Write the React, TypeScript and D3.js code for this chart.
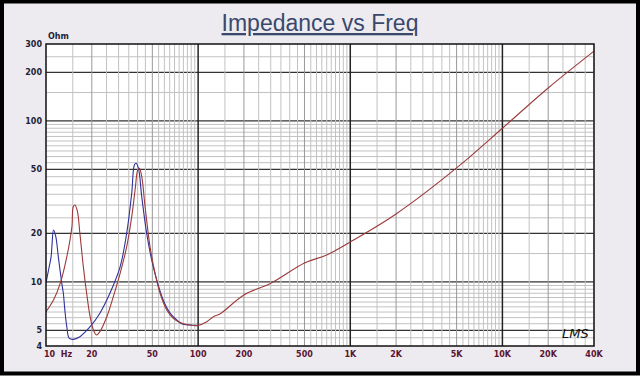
import React from "react";
import * as d3 from "d3";

const W = 640;
const H = 377;

const freqBlue = [10, 10.4, 10.8, 10.95, 11.2, 11.6, 12.05, 12.7, 13.0, 13.3, 13.7, 14.2, 15.1, 16.7, 19.5, 22.6, 26.3, 30.7, 33.9, 36.6, 38.1, 39.1, 40.5, 42.6, 45.9, 49.5, 53.4, 59, 65.4, 72.3, 78, 88, 100];
const zBlue = [9.85, 11.9, 14.3, 16.9, 21.0, 19.1, 14.3, 9.8, 8.5, 6.7, 5.27, 4.47, 4.4, 4.57, 5.27, 6.39, 8.5, 12.4, 20.0, 35.5, 53.2, 54.5, 50.8, 33.8, 20.0, 13.7, 10.3, 7.7, 6.4, 5.8, 5.5, 5.4, 5.37];

const freqRed = [10, 11.2, 12.4, 13.7, 14.8, 15.1, 15.5, 16.1, 16.7, 17.6, 18.5, 19.5, 20.5, 21.5, 22.6, 25.1, 27.7, 30.7, 33.9, 36.6, 38.5, 40.1, 41.1, 42.6, 44.8, 48.3, 52.1, 56.2, 62.2, 68.7, 76, 88, 100, 114, 126, 139, 200, 300, 500, 700, 1000, 2000, 5000, 10000, 20000, 40000];
const zRed = [6.53, 7.72, 9.8, 14.3, 22.0, 29.3, 30.0, 27.3, 20.0, 12.4, 8.5, 6.08, 5.03, 4.68, 4.91, 6.08, 8.1, 11.3, 16.5, 25.4, 37.2, 49.5, 50.8, 45.0, 29.3, 16.5, 11.3, 8.5, 6.7, 5.94, 5.6, 5.4, 5.37, 5.66, 6.08, 6.32, 8.3, 9.8, 13.1, 14.7, 17.7, 26.4, 51, 90, 160, 271];

const xTickValues = [10, 20, 50, 100, 200, 500, 1000, 2000, 5000, 10000, 20000, 40000];
const xTickLabels = ["10  Hz", "20", "50", "100", "200", "500", "1K", "2K", "5K", "10K", "20K", "40K"];
const yTickValues = [300, 200, 100, 50, 20, 10, 5, 4];
const yTickLabels = ["300", "200", "100", "50", "20", "10", "5", "4"];

const gridMultipliers = [1.5, 2, 2.5, 3, 3.5, 4, 4.5, 5, 5.5, 6, 6.5, 7, 7.5, 8, 8.5, 9, 9.5];

export default function App() {
  const left = 46, right = 594, top = 44, bottom = 346;
  const x = d3.scaleLog().domain([10, 40000]).range([left, right]);
  const y = d3.scaleLog().domain([4, 300]).range([bottom, top]);

  const vLines: { v: number; kind: number }[] = [];
  for (const dec of [10, 100, 1000, 10000]) {
    for (const m of gridMultipliers) {
      const v = dec * m;
      if (v > 40000) continue;
      vLines.push({ v, kind: m === 2 || m === 5 ? 1 : 0 });
    }
    if (dec > 10) vLines.push({ v: dec, kind: 2 });
  }

  const hLines: { v: number; kind: number }[] = [];
  for (const dec of [1, 10, 100]) {
    for (const m of [1, ...gridMultipliers]) {
      const v = dec * m;
      if (v <= 4 || v >= 300) continue;
      if (v > 150 && v !== 200 && v !== 250) continue;
      const major = [5, 10, 20, 50, 100, 200].includes(v);
      hLines.push({ v, kind: major ? 2 : 0 });
    }
  }

  const line = d3
    .line<[number, number]>()
    .x((d) => x(d[0]))
    .y((d) => y(d[1]))
    .curve(d3.curveCatmullRom.alpha(0.5));

  const blue = line(freqBlue.map((f, i) => [f, zBlue[i]] as [number, number]));
  const red = line(freqRed.map((f, i) => [f, zRed[i]] as [number, number]));

  const labelFont = "'DejaVu Sans', 'Liberation Sans', sans-serif";

  return (
    <svg width={W} height={H} style={{ position: "absolute", left: 0, top: 0 }}>
      <rect x={0} y={0} width={W} height={H} fill="#ffffff" />
      <rect x={2} y={1.5} width={636} height={372} fill="#edebef" stroke="#000" strokeWidth={4} />
      <text
        x={320}
        y={31}
        textAnchor="middle"
        fontFamily="'Liberation Sans', Arial, sans-serif"
        fontSize={23}
        fill="#3a486c"
        textDecoration="underline"
      >
        Impedance vs Freq
      </text>
      <rect x={left} y={top} width={right - left} height={bottom - top} fill="#ffffff" />
      <g clipPath="url(#plotclip)">
        {hLines.map((l, i) => (
          <line
            key={"h" + i}
            x1={left}
            x2={right}
            y1={y(l.v)}
            y2={y(l.v)}
            stroke={l.kind === 2 ? "#333" : "#c2c2c2"}
            strokeWidth={l.kind === 2 ? 1.2 : 1}
          />
        ))}
        {vLines.map((l, i) => (
          <line
            key={"v" + i}
            x1={x(l.v)}
            x2={x(l.v)}
            y1={top}
            y2={bottom}
            stroke={l.kind === 2 ? "#222" : l.kind === 1 ? "#999" : "#c2c2c2"}
            strokeWidth={l.kind === 2 ? 1.5 : 1}
          />
        ))}
        <path d={blue || ""} fill="none" stroke="#30309a" strokeWidth={1.1} />
        <path d={red || ""} fill="none" stroke="#9c3a3a" strokeWidth={1.1} />
      </g>
      <defs>
        <clipPath id="plotclip">
          <rect x={left} y={top} width={right - left} height={bottom - top} />
        </clipPath>
      </defs>
      <rect x={left} y={top} width={right - left} height={bottom - top} fill="none" stroke="#111" strokeWidth={1.5} />
      <text x={48} y={39} fontFamily={labelFont} fontSize={8} fontWeight="bold" fill="#1e1e38">
        Ohm
      </text>
      {yTickValues.map((v, i) => (
        <text
          key={"yl" + i}
          x={42}
          y={y(v) + 3}
          textAnchor="end"
          fontFamily={labelFont}
          fontSize={8}
          fontWeight="bold"
          fill="#1e1e38"
        >
          {yTickLabels[i]}
        </text>
      ))}
      {xTickValues.map((v, i) => (
        <text
          key={"xl" + i}
          x={i === 0 ? 44 : x(v)}
          y={357}
          textAnchor={i === 0 ? "start" : "middle"}
          fontFamily={labelFont}
          fontSize={8}
          fontWeight="bold"
          fill="#5a1434"
          style={{ whiteSpace: "pre" }}
        >
          {xTickLabels[i]}
        </text>
      ))}
      <text
        x={562}
        y={338}
        fontFamily="'DejaVu Sans', sans-serif"
        fontStyle="italic"
        fontSize={13}
        fill="#111"
      >
        LMS
      </text>
    </svg>
  );
}
